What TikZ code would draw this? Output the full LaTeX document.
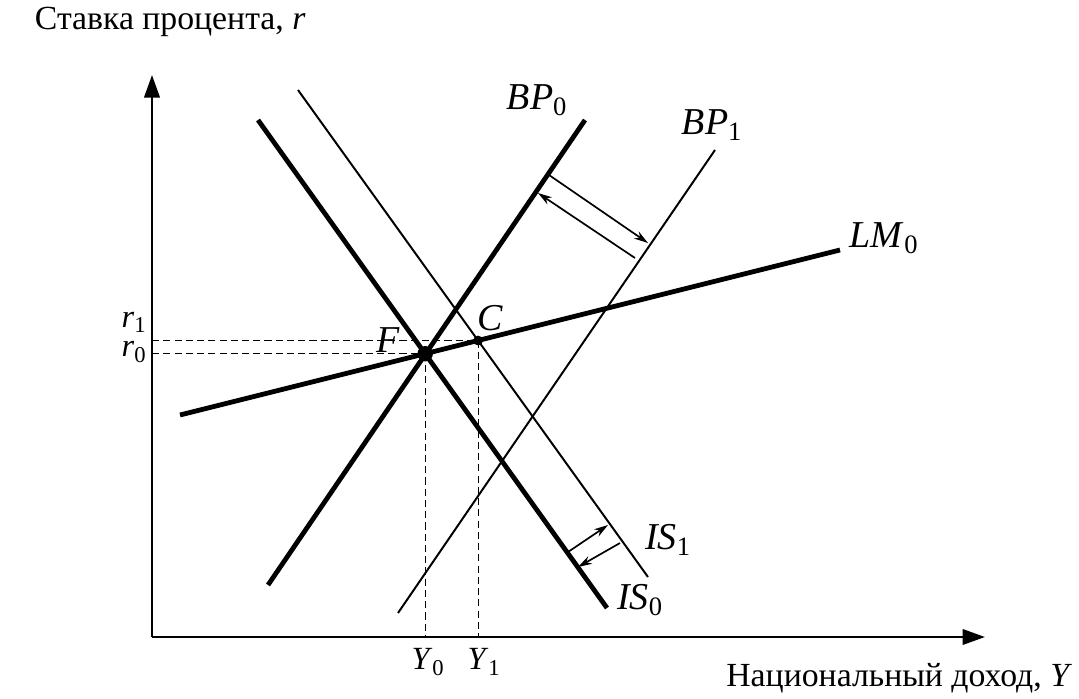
\documentclass[tikz,border=0pt]{standalone}
\usepackage{fontspec}
\setmainfont{Liberation Serif}
\usetikzlibrary{arrows.meta}
\begin{document}
\begin{tikzpicture}[x=0.025cm,y=-0.025cm]
  \tikzset{
    axis/.style={
      line width=1.7pt,
      -{Triangle[length=16pt, width=11pt]},
    },
    curvethick/.style={
      line width=3.4pt,
    },
    curvethin/.style={
      line width=1.4pt,
    },
    guide/.style={
      line width=0.8pt,
      dash pattern=on 5pt off 3pt,
    },
    shiftarrow/.style={
      line width=1.2pt,
      -{Stealth[length=10pt, width=6pt]},
    },
    curvelabel/.style={
      font=\fontsize{27}{30}\selectfont,
    },
    ticklabel/.style={
      font=\fontsize{23}{26}\selectfont,
      inner sep=1pt,
    },
    axislabel/.style={
      font=\fontsize{24}{27}\selectfont,
    },
    point/.style={
      circle,
      fill,
      inner sep=0pt,
    }
  }
  \useasboundingbox (0,0) rectangle (1079,698);

  % Axes
  \coordinate (O) at (152,637);
  \coordinate (ytop) at (152,75);
  \coordinate (xend) at (985,637);
  \draw[axis] (O) -- (ytop);
  \draw[axis] (O) -- (xend);
  \node[axislabel, anchor=west] (ylabel) at (30,22) {Ставка процента, \textit{r}};
  \node[axislabel, anchor=east] (xlabel) at (1077,678) {Национальный доход, \textit{Y}};

  % Curves
  \coordinate (LMa) at (180,415);
  \coordinate (LMb) at (840,250);
  \coordinate (BP0a) at (268,585);
  \coordinate (BP0b) at (585,120);
  \coordinate (BP1a) at (398,613);
  \coordinate (BP1b) at (715,150);
  \coordinate (IS0a) at (258,120);
  \coordinate (IS0b) at (607,608);
  \coordinate (IS1a) at (298,90);
  \coordinate (IS1b) at (648,577);

  \draw[curvethin] (BP1a) -- (BP1b);
  \draw[curvethin] (IS1a) -- (IS1b);
  \draw[curvethick] (BP0a) -- (BP0b);
  \draw[curvethick] (IS0a) -- (IS0b);
  \draw[curvethick] (LMa) -- (LMb);

  \node[curvelabel] (lbp0) at (537,100) {\textit{BP}\textsubscript{0}};
  \node[curvelabel] (lbp1) at (712,125) {\textit{BP}\textsubscript{1}};
  \node[curvelabel] (llm0) at (884,238) {\textit{LM}\textsubscript{0}};
  \node[curvelabel] (lis1) at (668,540) {\textit{IS}\textsubscript{1}};
  \node[curvelabel] (lis0) at (640,600) {\textit{IS}\textsubscript{0}};

  % Equilibria
  \coordinate (F) at (intersection of IS0a--IS0b and LMa--LMb);
  \coordinate (C) at (intersection of IS1a--IS1b and LMa--LMb);
  \draw[guide] (O |- C) -- (C);
  \draw[guide] (O |- F) -- (F);
  \draw[guide] (F) -- (F |- O);
  \draw[guide] (C) -- (C |- O);
  \node[point, minimum size=11pt] (pF) at (F) {};
  \node[point, minimum size=7pt] (pC) at (C) {};
  \node[curvelabel] (lF) at (388,340) {\textit{F}};
  \node[curvelabel] (lC) at (490,318) {\textit{C}};
  \node[ticklabel, anchor=east] (lr1) at (148,322) {\textit{r}\textsubscript{1}};
  \node[ticklabel, anchor=east] (lr0) at (148,352) {\textit{r}\textsubscript{0}};
  \node[ticklabel] (lY0) at (428,662) {\textit{Y}\textsubscript{0}};
  \node[ticklabel] (lY1) at (484,662) {\textit{Y}\textsubscript{1}};

  % Shifts
  \coordinate (bpA) at (549,175);
  \coordinate (bpB) at (648,243);
  \coordinate (bpC) at (635,258);
  \coordinate (bpD) at (538,193);
  \draw[shiftarrow] (bpA) -- (bpB);
  \draw[shiftarrow] (bpC) -- (bpD);
  \coordinate (isA) at (568,552);
  \coordinate (isB) at (608,525);
  \coordinate (isC) at (620,543);
  \coordinate (isD) at (578,567);
  \draw[shiftarrow] (isA) -- (isB);
  \draw[shiftarrow] (isC) -- (isD);
\end{tikzpicture}
\end{document}
